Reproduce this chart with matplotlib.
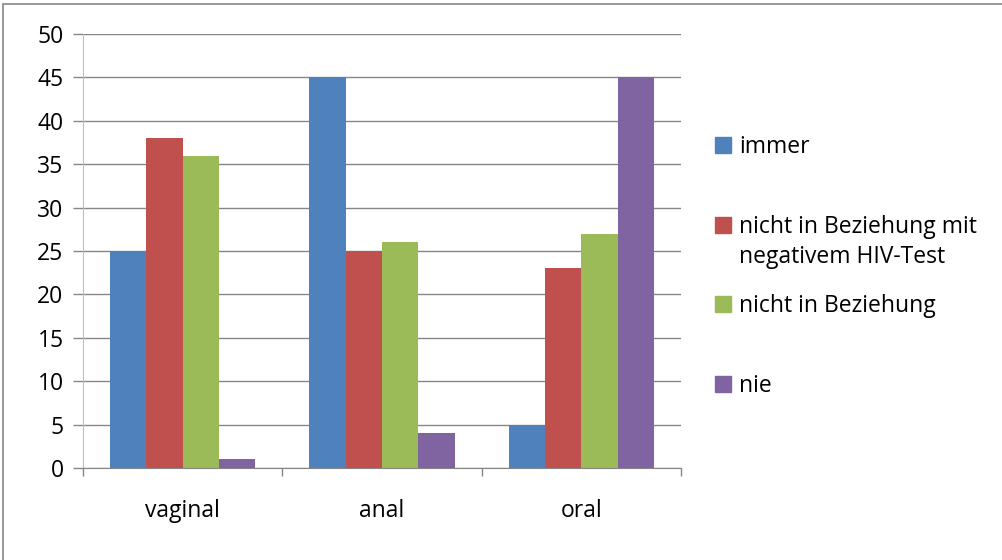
import matplotlib
matplotlib.use("Agg")
import matplotlib.pyplot as plt
from matplotlib.patches import Rectangle
import numpy as np

categories = ["vaginal", "anal", "oral"]
series = ["immer", "nicht in Beziehung mit\nnegativem HIV-Test", "nicht in Beziehung", "nie"]
values = [
    [25, 45, 5],
    [38, 25, 23],
    [36, 26, 27],
    [1, 4, 45],
]
colors = ["#4F81BD", "#C0504D", "#9BBB59", "#8064A2"]

plt.rcParams["font.family"] = ["Open Sans", "DejaVu Sans"]
grey = "#868686"
fs = 16.5

W, H = 1003, 560
fig = plt.figure(figsize=(W / 100, H / 100), dpi=100)
ax = fig.add_axes([83 / W, 1 - 468 / H, (681 - 83) / W, (468 - 34) / H])

x = np.arange(len(categories))
bw = 0.1825
for i, (vals, c) in enumerate(zip(values, colors)):
    ax.bar(x + (i - 1.5) * bw, vals, bw, color=c, zorder=3, linewidth=0)

ax.set_xlim(-0.5, len(categories) - 0.5)
ax.set_ylim(0, 50)
ax.set_yticks(range(0, 51, 5))
ax.yaxis.grid(True, color=grey, linewidth=1, zorder=0)
ax.tick_params(axis="y", length=7, width=1, color=grey, pad=7, labelsize=fs)

ax.set_xticks(x)
ax.set_xticklabels(categories)
ax.set_xticks(np.arange(-0.5, len(categories), 1), minor=True)
ax.tick_params(axis="x", which="major", length=0, pad=22, labelsize=fs)
ax.tick_params(axis="x", which="minor", length=6, width=1, color=grey)

for s in ["top", "right"]:
    ax.spines[s].set_visible(False)
ax.spines["left"].set_color("#BFBFBF")
ax.spines["bottom"].set_color(grey)
for s in ["left", "bottom"]:
    ax.spines[s].set_zorder(4)

# legend drawn by hand so the square sits on the first text line
for i, (lab, c) in enumerate(zip(series, colors)):
    yb = 153 + 79.7 * i
    fig.patches.append(Rectangle((715 / W, 1 - yb / H), 16 / W, 16 / H,
                                 transform=fig.transFigure, color=c))
    for j, line in enumerate(lab.split("\n")):
        fig.text(739 / W, 1 - (yb + 30 * j) / H, line, fontsize=fs,
                 va="baseline", ha="left")

# outer chart frame (clipped at right and bottom)
fig.patches.append(Rectangle((3.5 / W, -0.1), 1.2, 1 - 3.5 / H + 0.1,
                             transform=fig.transFigure, fill=False,
                             edgecolor=grey, linewidth=1.2))

fig.savefig("out.png", dpi=100)
